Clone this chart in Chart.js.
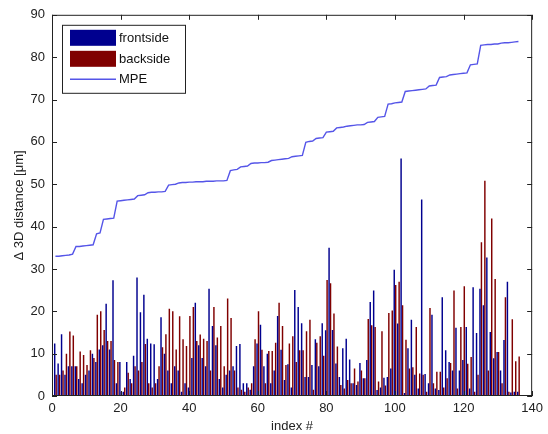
<!DOCTYPE html>
<html>
<head>
<meta charset="utf-8">
<script src="https://cdn.jsdelivr.net/npm/chart.js@4.4.0/dist/chart.umd.min.js"></script>
<style>
  html, body { margin: 0; padding: 0; background: #fff; }
</style>
</head>
<body>
<canvas id="chart" width="548" height="434"></canvas>
<script>
// values, one per index 1..136
const frontside = [
  12.4, 7.7, 14.6, 5, 7, 7, 7, 4, 3, 5, 6, 10, 8, 11, 12, 21.8, 11, 27.3, 3, 8,
  1, 8, 4, 9.5, 28, 19.8, 23.9, 13.5, 12.4, 12.2, 4, 18.6, 10, 6, 3, 7, 6, 1, 3, 2,
  9, 22, 12, 9, 7, 25.3, 16.5, 12, 4, 2, 5, 6, 7, 11.8, 12.3, 3, 3, 1.5, 7, 12.4,
  16.8, 7, 10, 3, 6, 18.9, 10.9, 3.8, 7.5, 2, 25, 21, 17.2, 4.5, 4.5, 7.3, 13.4, 7, 17.2, 15.5,
  35, 15.6, 7.7, 4.5, 11.3, 13.5, 8.6, 3, 2.6, 7.8, 4.2, 8.5, 22.2, 24.9, 1.4, 2, 4.3, 4.5, 6.5, 29.8,
  17.1, 56.1, 0.7, 11.3, 18, 5, 1.8, 46.4, 5.2, 3, 19.2, 1.8, 1.4, 23.3, 10.8, 8, 6, 16.1, 6, 8.5,
  16.3, 1.8, 25.7, 14.9, 25.3, 21.4, 32.7, 15.1, 8.9, 10.4, 6, 13.2, 27, 0.8, 1, 1
];
const backside = [
  5, 5, 6, 10, 15.2, 14.3, 7, 10.5, 9.7, 7.3, 10.8, 9, 19.2, 20, 15.6, 13, 13, 8.5, 8, 1,
  2, 5.5, 3, 7, 6, 8, 12.3, 3, 2, 3, 7, 11.5, 14.6, 20.6, 20, 11, 18.8, 13.4, 11.8, 18.9,
  21, 13, 14.5, 13.5, 13, 6, 21, 13.8, 16.5, 7, 23, 18.4, 6, 2, 1.5, 1, 2, 3, 13.4, 20,
  10.9, 3, 10.6, 10.6, 12.6, 22, 16.5, 7.3, 12.4, 14.1, 8, 10.8, 10.8, 15.3, 18, 1.5, 12.6, 14.1, 9.5, 27.4,
  26.6, 19.5, 11.7, 2.6, 1.8, 3.8, 3, 6.5, 3.4, 6, 4.2, 18.2, 16.7, 16.3, 3.4, 15.3, 2.5, 19.6, 20.2, 26.2,
  27, 21.4, 13.3, 6.5, 6.8, 16.3, 5.3, 5, 1, 20.8, 3, 5.7, 5.7, 2, 4.2, 7.8, 24.9, 1.8, 16.3, 25.9,
  7.6, 9.2, 1, 5, 36.3, 50.8, 6, 41.9, 27.6, 10.4, 3, 23.3, 1, 18.1, 8.2, 9.3
];
const mpe = [
  33.0, 33.0, 33.1, 33.2, 33.3, 33.5, 35.3, 35.3, 35.4, 35.5, 35.6, 35.7, 38.3, 38.5,
  41.7, 41.8, 41.9, 42.0, 46.0, 46.1, 46.2, 46.3, 46.4, 46.5, 47.3, 47.4, 47.5,
  48.0, 48.1, 48.1, 48.2, 48.2, 48.3, 49.8, 49.9, 50.0,
  50.3, 50.4, 50.4, 50.5, 50.5, 50.6, 50.6, 50.6, 50.7, 50.7, 50.7, 50.8, 50.8, 50.8, 50.9,
  53.2, 53.4, 53.5, 54.1, 54.2, 54.3, 54.9, 55.0, 55.0, 55.1, 55.1, 55.2,
  55.6, 55.7, 55.8, 55.9, 56.0, 56.1, 56.5, 56.6, 56.7, 56.8, 59.9, 60.1, 60.2,
  60.8, 60.9, 61.0, 62.3, 62.4, 62.5, 63.3, 63.4, 63.5, 63.7, 63.8, 63.9, 64.0, 64.0, 64.1,
  64.6, 64.7, 64.8, 65.8, 65.9, 66.0, 68.9, 69.0, 69.2, 69.3, 69.4,
  71.9, 72.0, 72.1, 72.2, 72.3, 72.4, 72.5, 73.2, 73.3, 73.4, 75.2, 75.3, 75.4,
  75.8, 75.9, 76.0, 76.1, 76.2, 76.3, 78.2, 78.3, 78.4,
  82.8, 82.9, 83.0, 83.0, 83.1, 83.1, 83.3, 83.4, 83.4, 83.5, 83.6, 83.7
];
const xTicks = [0, 20, 40, 60, 80, 100, 120, 140];
const yTicks = [0, 10, 20, 30, 40, 50, 60, 70, 80, 90];

const FONT = '"Liberation Sans", Arial, sans-serif';
const toXY = arr => arr.map((v, i) => ({ x: i + 1, y: v }));

// MATLAB style box with inward ticks, plus the legend inside the axes
const matlabAxes = {
  id: 'matlabAxes',
  afterDraw(chart) {
    const { ctx, chartArea: a, scales } = chart;
    ctx.save();
    ctx.strokeStyle = '#222';
    ctx.lineWidth = 1;
    ctx.strokeRect(a.left + 0.5, a.top + 0.5, a.right - a.left - 1, a.bottom - a.top - 1);
    ctx.beginPath();
    xTicks.forEach(t => {
      const px = Math.round(scales.x.getPixelForValue(t)) + 0.5;
      ctx.moveTo(px, a.bottom); ctx.lineTo(px, a.bottom - 5);
      ctx.moveTo(px, a.top); ctx.lineTo(px, a.top + 5);
    });
    yTicks.forEach(t => {
      const py = Math.round(scales.y.getPixelForValue(t)) + 0.5;
      ctx.moveTo(a.left, py); ctx.lineTo(a.left + 5, py);
      ctx.moveTo(a.right, py); ctx.lineTo(a.right - 5, py);
    });
    ctx.stroke();

    // legend
    const lx = a.left + 10, ly = a.top + 10;
    ctx.fillStyle = '#fff';
    ctx.fillRect(lx, ly, 123, 68);
    ctx.strokeStyle = '#222';
    ctx.strokeRect(lx + 0.5, ly + 0.5, 123, 68);
    ctx.fillStyle = 'rgb(0,0,143)';
    ctx.fillRect(lx + 8, ly + 5, 46, 16);
    ctx.fillStyle = 'rgb(128,0,0)';
    ctx.fillRect(lx + 8, ly + 26, 46, 16);
    ctx.strokeStyle = 'rgb(85,85,232)';
    ctx.lineWidth = 1.4;
    ctx.beginPath();
    ctx.moveTo(lx + 8, ly + 54.5); ctx.lineTo(lx + 54, ly + 54.5);
    ctx.stroke();
    ctx.fillStyle = '#111';
    ctx.font = '13px ' + FONT;
    ctx.textBaseline = 'middle';
    ctx.fillText('frontside', lx + 57, ly + 14);
    ctx.fillText('backside', lx + 57, ly + 35);
    ctx.fillText('MPE', lx + 57, ly + 55);
    ctx.restore();
  }
};

const ctx = document.getElementById('chart').getContext('2d');
new Chart(ctx, {
  data: {
    datasets: [
      {
        type: 'line',
        label: 'MPE',
        data: toXY(mpe),
        borderColor: 'rgb(85,85,232)',
        borderWidth: 1.4,
        pointRadius: 0,
        tension: 0,
        order: 0
      },
      {
        type: 'bar',
        label: 'frontside',
        data: toXY(frontside),
        backgroundColor: 'rgb(0,0,143)',
        barPercentage: 1,
        categoryPercentage: 0.85,
        order: 1
      },
      {
        type: 'bar',
        label: 'backside',
        data: toXY(backside),
        backgroundColor: 'rgb(128,0,0)',
        barPercentage: 1,
        categoryPercentage: 0.85,
        order: 1
      }
    ]
  },
  options: {
    responsive: false,
    animation: false,
    layout: { padding: { top: 13, right: 15, left: 0, bottom: 0 } },
    plugins: { legend: { display: false }, tooltip: { enabled: false } },
    scales: {
      x: {
        type: 'linear',
        offset: false,
        min: 0, max: 140,
        grid: { display: false, drawTicks: false },
        border: { display: false },
        afterBuildTicks: s => { s.ticks = xTicks.map(v => ({ value: v })); },
        ticks: { color: '#222', font: { family: FONT, size: 13 }, padding: 5, maxRotation: 0 },
        title: { display: true, text: 'index #', color: '#222', font: { family: FONT, size: 13 }, padding: { top: 0, bottom: 0 } },
        afterFit: s => { s.height = 38; }
      },
      y: {
        min: 0, max: 90,
        grid: { display: false, drawTicks: false },
        border: { display: false },
        afterBuildTicks: s => { s.ticks = yTicks.map(v => ({ value: v })); },
        ticks: { color: '#222', font: { family: FONT, size: 13 }, padding: 7 },
        title: { display: true, text: 'Δ 3D distance [μm]', color: '#222', font: { family: FONT, size: 13 }, padding: { top: 12, bottom: 0 } },
        afterFit: s => { s.width = 52; }
      }
    }
  },
  plugins: [matlabAxes]
});
</script>
</body>
</html>
